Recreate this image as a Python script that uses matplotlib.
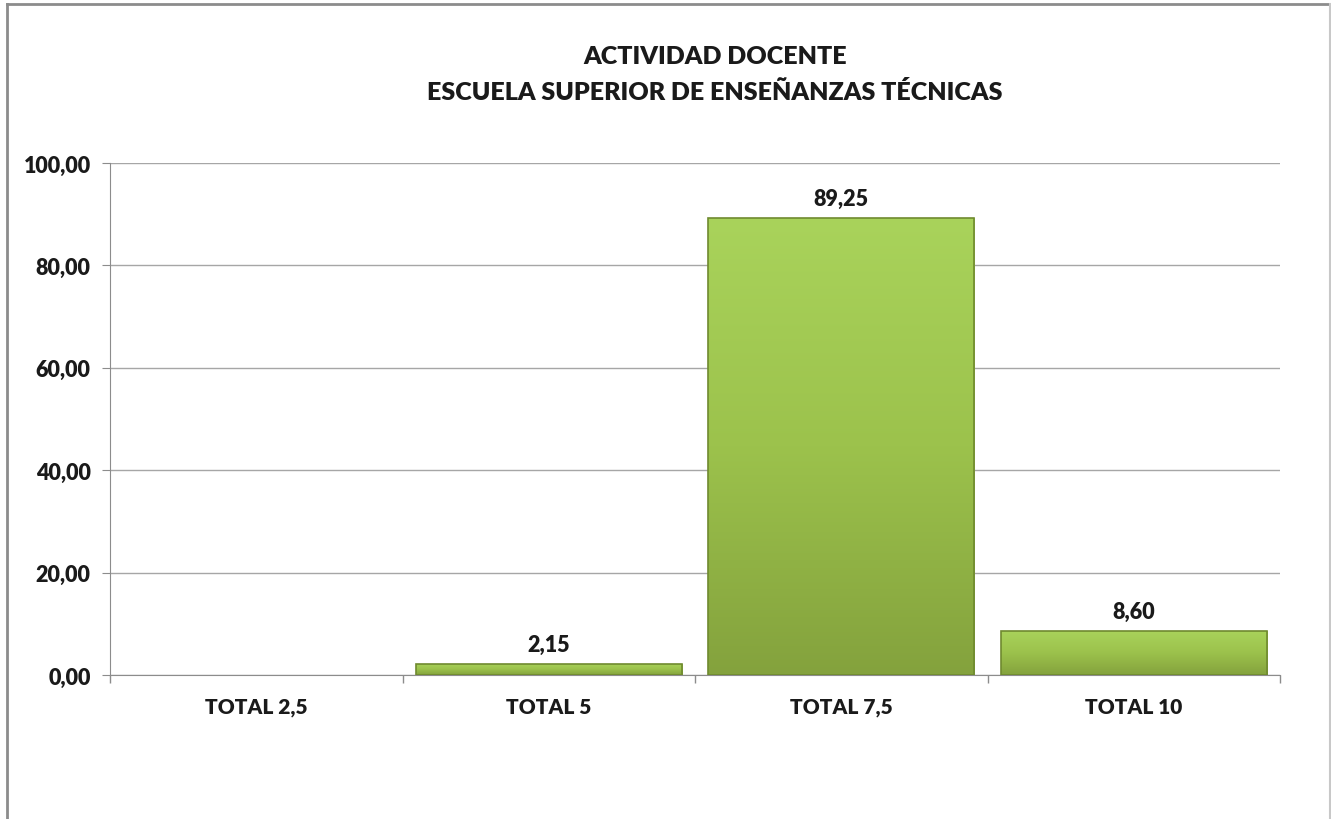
import numpy as np
import matplotlib
matplotlib.use("Agg")
import matplotlib.pyplot as plt
from matplotlib.colors import LinearSegmentedColormap
from matplotlib.lines import Line2D

categories = ["TOTAL 2,5", "TOTAL 5", "TOTAL 7,5", "TOTAL 10"]
values = [0.0, 2.15, 89.25, 8.60]
title_lines = ["ACTIVIDAD DOCENTE", "ESCUELA SUPERIOR DE ENSEÑANZAS TÉCNICAS"]

plt.rcParams['font.family'] = ['Lato', 'DejaVu Sans']
plt.rcParams['font.weight'] = 'heavy'
wt = 'heavy'

fig = plt.figure(figsize=(13.31, 8.20), dpi=100)
ax = fig.add_axes([110 / 1331, 1 - 676 / 820, 1170 / 1331, 512 / 820])

x = np.arange(len(categories))
bar_w = 0.91
bars = ax.bar(x, values, bar_w, color="none", edgecolor="none", zorder=3)

# vertical gradient, light at top, darker at the bottom
cmap = LinearSegmentedColormap.from_list("grn", ["#84a23d", "#9cc24c", "#a9d35b"])
grad = np.linspace(0, 1, 256).reshape(-1, 1)
for b, v in zip(bars, values):
    if v <= 0:
        continue
    x0, w = b.get_x(), b.get_width()
    im = ax.imshow(grad, cmap=cmap, origin="lower", aspect="auto",
                   extent=[x0, x0 + w, 0, v], zorder=3)
    im.set_clip_path(b)
    ax.add_patch(plt.Rectangle((x0, 0), w, v, fill=False, edgecolor="#6f8a2f",
                               linewidth=1.2, zorder=4))
    ax.text(x0 + w / 2, v + 1.8, f"{v:.2f}".replace(".", ","), ha="center",
            va="bottom", fontsize=15.5, fontweight=wt, color="#1a1a1a")

ax.set_xlim(-0.5, len(categories) - 0.5)
ax.set_ylim(0, 100)
ax.set_yticks(np.arange(0, 101, 20))
ax.set_yticklabels([f"{t:.2f}".replace(".", ",") for t in np.arange(0, 101, 20)])
ax.set_xticks(x)
ax.set_xticklabels(categories)
ax.set_xticks(np.arange(-0.5, len(categories)), minor=True)
ax.tick_params(axis="x", which="major", length=0, pad=16, labelsize=15)
ax.tick_params(axis="x", which="minor", length=6, color="#8c8c8c", width=1)
ax.tick_params(axis="y", length=6, color="#8c8c8c", labelsize=15.5, pad=8)
for lab in ax.get_xticklabels() + ax.get_yticklabels():
    lab.set_fontweight(wt)
    lab.set_color("#1a1a1a")

ax.grid(axis="y", color="#a6a6a6", linewidth=1, zorder=0)
for side in ["top", "right"]:
    ax.spines[side].set_visible(False)
ax.spines["left"].set_color("#8c8c8c")
ax.spines["bottom"].set_color("#8c8c8c")

fig.text(715 / 1331, 1 - 57 / 820, title_lines[0], ha="center", va="center",
         fontsize=18, fontweight=wt, color="#1a1a1a")
fig.text(715 / 1331, 1 - 92 / 820, title_lines[1], ha="center", va="center",
         fontsize=18, fontweight=wt, color="#1a1a1a")

# outer chart frame
fig.add_artist(Line2D([7 / 1331, 7 / 1331], [0, 1 - 5 / 820], transform=fig.transFigure,
                      color="#8c8c8c", linewidth=2))
fig.add_artist(Line2D([7 / 1331, 1], [1 - 5 / 820, 1 - 5 / 820], transform=fig.transFigure,
                      color="#8c8c8c", linewidth=2))
fig.add_artist(Line2D([1329.5 / 1331, 1329.5 / 1331], [0, 1 - 5 / 820], transform=fig.transFigure,
                      color="#c8c8c8", linewidth=1.5))

fig.savefig("out.png", dpi=100)
